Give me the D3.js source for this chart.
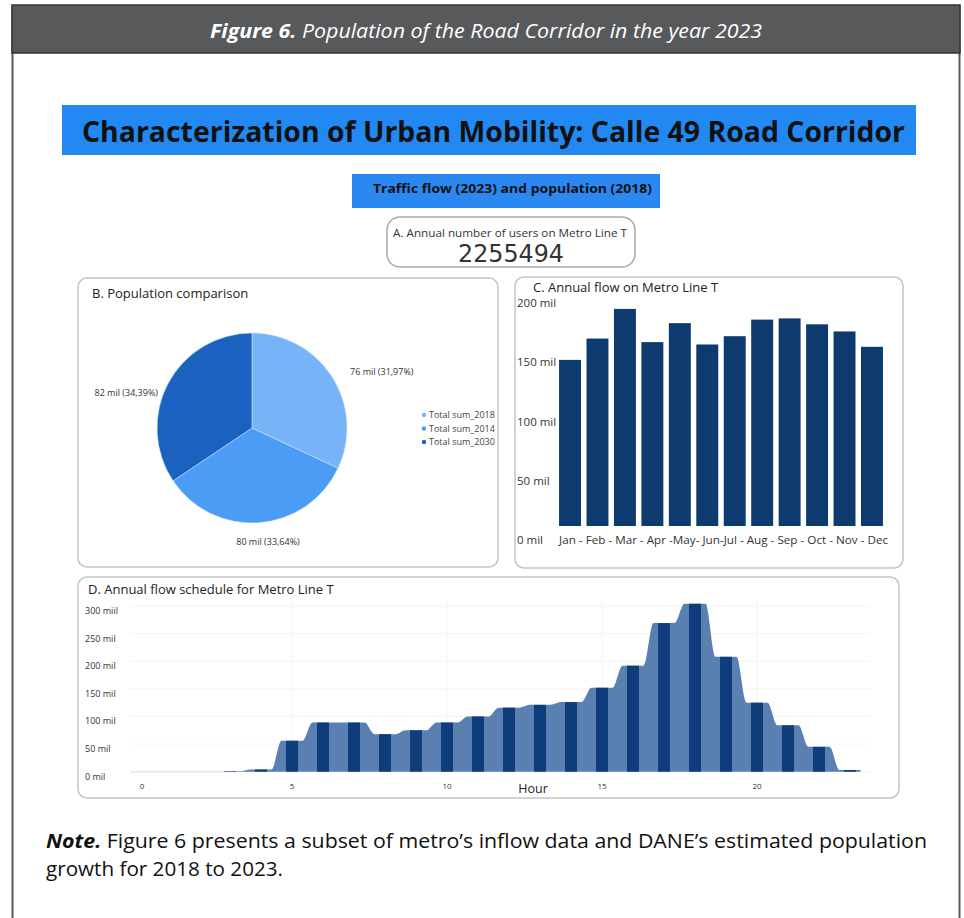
<!DOCTYPE html>
<html><head><meta charset="utf-8">
<script src="https://cdn.jsdelivr.net/npm/d3@7"></script>
<style>
html,body{margin:0;padding:0;background:#fff;}
svg{display:block;}
text{font-family:"Open Sans","Noto Sans",sans-serif;}
</style></head>
<body>
<script>
// ---------- DATA ----------
const totalUsers = "2255494";
const popLabels = ["Total sum_2018","Total sum_2014","Total sum_2030"];
const popValues = [76, 80, 82];            // mil
const popShares = [31.97, 33.64, 34.39];   // %
const months = ["Jan","Feb","Mar","Apr","May","Jun","Jul","Aug","Sep","Oct","Nov","Dec"];
const monthFlow = [152, 170, 195, 167, 183, 165, 172, 186, 187, 182, 176, 163]; // mil
const monthAxisText = "Jan - Feb - Mar - Apr -May- Jun-Jul - Aug - Sep - Oct - Nov - Dec";
const monthTicks = [0, 50, 100, 150, 200];
const monthTickLabels = ["0 mil","50 mil","100 mil","150 mil","200 mil"];
const hours = d3.range(0, 24);
const hourFlow = [0, 0, 0, 1, 4, 56, 89, 89, 68, 75, 89, 100, 116, 121, 126, 152, 192, 269, 304, 208, 125, 84, 45, 3]; // mil
const hourTicks = [0, 50, 100, 150, 200, 250, 300];
const hourTickLabels = ["0 mil","50 mil","100 mil","150 mil","200 mil","250 mil","300 miil"];
const hourXTicks = [0, 5, 10, 15, 20];

// ---------- SVG ----------
const W = 964, H = 918;
const svg = d3.select("body").append("svg").attr("width", W).attr("height", H);
svg.append("rect").attr("width", W).attr("height", H).attr("fill", "#fff");

// Frame + header
svg.append("line").attr("x1", 12.5).attr("x2", 12.5).attr("y1", 5).attr("y2", H).attr("stroke", "#5a5a5a").attr("stroke-width", 2);
svg.append("line").attr("x1", 959.5).attr("x2", 959.5).attr("y1", 5).attr("y2", H).attr("stroke", "#5a5a5a").attr("stroke-width", 2);
svg.append("rect").attr("x", 12).attr("y", 5).attr("width", 948).attr("height", 48)
  .attr("fill", "#58595b").attr("stroke", "#333").attr("stroke-width", 1.5);
const ht = svg.append("text").attr("x", 210).attr("y", 38).attr("fill", "#fff")
  .attr("font-size", 20).attr("font-style", "italic")
  .attr("textLength", 552).attr("lengthAdjust", "spacingAndGlyphs");
ht.append("tspan").attr("font-weight", "bold").text("Figure 6.");
ht.append("tspan").text(" Population of the Road Corridor in the year 2023");

// Main banner
svg.append("rect").attr("x", 62).attr("y", 105).attr("width", 854).attr("height", 50).attr("fill", "#2389f2");
svg.append("text").attr("x", 82).attr("y", 142).attr("font-size", 28).attr("font-weight", "bold").attr("fill", "#111")
  .attr("textLength", 823).attr("lengthAdjust", "spacingAndGlyphs")
  .text("Characterization of Urban Mobility: Calle 49 Road Corridor");

// Sub banner
svg.append("rect").attr("x", 352).attr("y", 174).attr("width", 308).attr("height", 34).attr("fill", "#2a88f0");
svg.append("text").attr("x", 373).attr("y", 193).attr("font-size", 13).attr("font-weight", "bold").attr("fill", "#111")
  .attr("textLength", 279).attr("lengthAdjust", "spacingAndGlyphs")
  .text("Traffic flow (2023) and population (2018)");

// A box
svg.append("rect").attr("x", 387).attr("y", 217).attr("width", 248).attr("height", 50).attr("rx", 13)
  .attr("fill", "#fff").attr("stroke", "#aaa").attr("stroke-width", 1.5);
svg.append("text").attr("x", 393).attr("y", 237).attr("font-size", 11).attr("fill", "#333")
  .attr("textLength", 234).attr("lengthAdjust", "spacingAndGlyphs")
  .text("A. Annual number of users on Metro Line T");
svg.append("text").attr("x", 458).attr("y", 262).attr("font-size", 25).attr("fill", "#333")
  .style("font-family", "'DejaVu Sans',sans-serif")
  .attr("textLength", 106).attr("lengthAdjust", "spacingAndGlyphs").text(totalUsers);

// Panel boxes
function panel(x, y, w, h) {
  svg.append("rect").attr("x", x).attr("y", y).attr("width", w).attr("height", h).attr("rx", 9)
    .attr("fill", "#fff").attr("stroke", "#c4c4c4").attr("stroke-width", 1.5);
}
panel(78, 278, 420, 289);
panel(515, 277, 388, 291);
panel(78, 577, 821, 221);

// ---------- B. Pie ----------
svg.append("text").attr("x", 92).attr("y", 298).attr("font-size", 13).attr("fill", "#222").text("B. Population comparison");
const pieColors = d3.scaleOrdinal().domain(popLabels).range(["#76b3f7", "#4b9cf5", "#1b61bf"]);
const pie = d3.pie().sort(null).value((d, i) => popShares[i]);
const arcs = pie(popLabels);
const arcGen = d3.arc().innerRadius(0).outerRadius(95);
const pg = svg.append("g").attr("transform", "translate(252,428)");
pg.selectAll("path").data(arcs).join("path")
  .attr("d", arcGen).attr("fill", d => pieColors(d.data)).attr("stroke", "#cfe4fc").attr("stroke-width", 0.6);
const pieLabelPos = [[350, 375, "start"], [268, 545, "middle"], [158, 396, "end"]];
arcs.forEach((a, i) => {
  svg.append("text").attr("x", pieLabelPos[i][0]).attr("y", pieLabelPos[i][1])
    .attr("text-anchor", pieLabelPos[i][2]).attr("font-size", 9).attr("fill", "#333")
    .text(`${popValues[i]} mil (${popShares[i].toFixed(2).replace(".", ",")}%)`);
});
popLabels.forEach((l, i) => {
  const y = 415 + i * 13.5;
  svg.append("circle").attr("cx", 424).attr("cy", y).attr("r", 2.2).attr("fill", pieColors(l));
  svg.append("text").attr("x", 429).attr("y", y + 3.2).attr("font-size", 9).attr("fill", "#444").text(l);
});

// ---------- C. Monthly bars ----------
svg.append("text").attr("x", 533).attr("y", 292).attr("font-size", 13).attr("fill", "#222").text("C. Annual flow on Metro Line T");
const xC = d3.scaleBand().domain(months).range([556.3, 885.7]).paddingInner(0.2).paddingOuter(0.1);
const yC = d3.scaleLinear().domain([0, 200]).range([540, 303]);
svg.append("g").selectAll("rect").data(months).join("rect")
  .attr("x", d => xC(d)).attr("width", xC.bandwidth())
  .attr("y", (d, i) => yC(monthFlow[i]))
  .attr("height", (d, i) => (yC(0) - 14) - yC(monthFlow[i]))
  .attr("fill", "#0e3b6f");
monthTicks.forEach((t, i) => {
  svg.append("text").attr("x", 517).attr("y", yC(t) + 4).attr("font-size", 11.5).attr("fill", "#333").text(monthTickLabels[i]);
});
svg.append("text").attr("x", xC(months[0])).attr("y", yC(0) + 4).attr("font-size", 11).attr("fill", "#333")
  .attr("textLength", 329).attr("lengthAdjust", "spacingAndGlyphs").text(monthAxisText);

// ---------- D. Hourly area ----------
svg.append("text").attr("x", 88).attr("y", 594).attr("font-size", 13).attr("fill", "#222").text("D. Annual flow schedule for Metro Line T");
const xD = d3.scaleLinear().domain([0, 20]).range([137, 757]);
const yD = d3.scaleLinear().domain([0, 300]).range([771.7, 606]);
const grid = svg.append("g");
hourTicks.forEach(t => grid.append("line").attr("x1", 130).attr("x2", 870).attr("y1", yD(t)).attr("y2", yD(t)).attr("stroke", "#f4f4f4"));
hourXTicks.forEach(t => { if (t > 0) grid.append("line").attr("x1", xD(t)).attr("x2", xD(t)).attr("y1", 600).attr("y2", yD(0)).attr("stroke", "#f4f4f4"); });
const half = 0.34;
const stepPts = [];
hours.forEach((h, i) => { stepPts.push([h - half, hourFlow[i]]); stepPts.push([h + half, hourFlow[i]]); });
const areaGen = d3.area().x(d => xD(d[0])).y0(yD(0)).y1(d => yD(d[1])).curve(d3.curveMonotoneX);
svg.append("path").datum(stepPts).attr("d", areaGen).attr("fill", "#5a7fb1");
svg.append("line").attr("x1", xD(-0.2)).attr("x2", xD(3)).attr("y1", yD(0)).attr("y2", yD(0)).attr("stroke", "#e6e6e6").attr("stroke-width", 1.5);
svg.append("g").selectAll("rect").data(hours).join("rect")
  .attr("x", d => xD(d) - 6).attr("width", 12)
  .attr("y", (d, i) => yD(hourFlow[i])).attr("height", (d, i) => yD(0) - yD(hourFlow[i]))
  .attr("fill", "#0f3d7c");
hourTicks.forEach((t, i) => {
  svg.append("text").attr("x", 85).attr("y", yD(t) + 8).attr("font-size", 9).attr("fill", "#333").text(hourTickLabels[i]);
});
hourXTicks.forEach(t => {
  svg.append("text").attr("x", xD(t) + (t === 0 ? 5 : 0)).attr("y", 789).attr("text-anchor", "middle").attr("font-size", 8).attr("fill", "#333").text(t);
});
svg.append("text").attr("x", 533).attr("y", 793).attr("text-anchor", "middle").attr("font-size", 12.5).attr("fill", "#222").text("Hour");

// ---------- Note ----------
const n1 = svg.append("text").attr("x", 46).attr("y", 848).attr("font-size", 20).attr("fill", "#111")
  .attr("textLength", 881).attr("lengthAdjust", "spacingAndGlyphs");
n1.append("tspan").attr("font-weight", "bold").attr("font-style", "italic").text("Note.");
n1.append("tspan").text(" Figure 6 presents a subset of metro\u2019s inflow data and DANE\u2019s estimated population");
svg.append("text").attr("x", 46).attr("y", 876).attr("font-size", 20).attr("fill", "#111")
  .attr("textLength", 237).attr("lengthAdjust", "spacingAndGlyphs").text("growth for 2018 to 2023.");
</script>
</body></html>
